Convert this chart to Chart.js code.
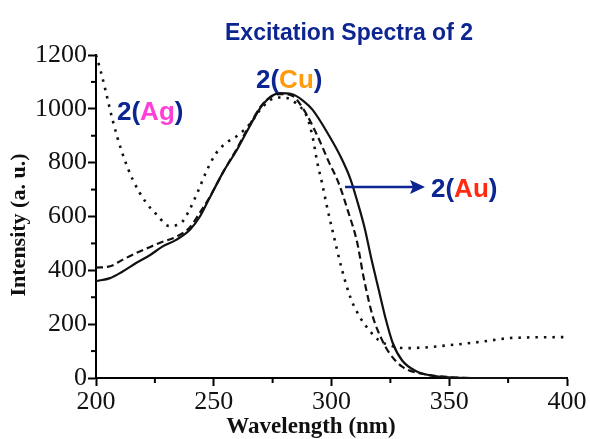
<!DOCTYPE html>
<html>
<head>
<meta charset="utf-8">
<script src="https://cdn.jsdelivr.net/npm/chart.js@4"></script>
<style>
  html, body { margin: 0; padding: 0; background: #fff; }
  #wrap { width: 590px; height: 439px; }
</style>
</head>
<body>
<div id="wrap"><canvas id="spectraChart" width="590" height="439"></canvas></div>
<script>
// Excitation spectra (wavelength in nm, intensity in a.u.)
const auWave = [200, 206, 211, 217, 223, 228, 234, 240, 244, 248, 254, 260, 264, 271, 278, 283, 288, 292, 299, 304, 308, 311, 314, 317, 320, 323, 326, 330, 336, 343, 350, 360, 400];
const auInt  = [360, 371, 394, 427, 457, 487, 513, 552, 598, 665, 765, 850, 915, 1018, 1058, 1055, 1030, 996, 900, 820, 740, 655, 560, 440, 330, 220, 130, 65, 25, 8, 2, 0, 0];

const cuWave = [200, 206, 211, 217, 223, 228, 234, 240, 244, 248, 254, 260, 264, 271, 278, 283, 288, 294, 299, 303, 307, 311, 313.5, 316, 318, 321, 324, 330, 339, 349, 360, 400];
const cuInt  = [410, 415, 438, 464, 487, 505, 524, 561, 613, 668, 765, 855, 920, 1020, 1055, 1050, 1000, 900, 800, 725, 620, 500, 380, 280, 215, 150, 100, 42, 15, 4, 0, 0];

const agWave = [200, 202, 204, 207, 211, 215.7, 221, 226, 231, 236, 239, 243, 247, 251, 256, 260, 265, 271, 277, 281, 285, 289.6, 292, 294, 296, 298, 300.5, 304.5, 308, 312, 316, 320, 326, 332, 339, 349, 363, 377, 400];
const agInt  = [1200, 1140, 1070, 960, 840, 735, 655, 605, 565, 575, 613, 687, 770, 835, 878, 900, 940, 1010, 1042, 1040, 1020, 970, 895, 799, 724, 640, 545, 401, 300, 227, 178, 141, 118, 111, 113, 121, 134, 149, 152];

const xTicks = [200, 250, 300, 350, 400];
const yTicks = [0, 200, 400, 600, 800, 1000, 1200];

const navy = '#0d2591';
const serif = '"Liberation Serif", "Times New Roman", serif';
const sans = '"Liberation Sans", Arial, Helvetica, sans-serif';

function toPoints(xs, ys) {
    return xs.map((x, i) => ({ x: x, y: ys[i] }));
}

// short minor ticks between the labelled ones
const minorTicks = {
    id: 'minorTicks',
    afterDraw(chart) {
        const ctx = chart.ctx;
        const xs = chart.scales.x, ys = chart.scales.y;
        ctx.save();
        ctx.strokeStyle = '#000';
        ctx.lineWidth = 2;
        for (let v = 225; v < 400; v += 50) {
            const px = xs.getPixelForValue(v);
            ctx.beginPath();
            ctx.moveTo(px, ys.bottom);
            ctx.lineTo(px, ys.bottom + 5);
            ctx.stroke();
        }
        for (let v = 100; v < 1200; v += 200) {
            const py = ys.getPixelForValue(v);
            ctx.beginPath();
            ctx.moveTo(xs.left, py);
            ctx.lineTo(xs.left - 5, py);
            ctx.stroke();
        }
        ctx.restore();
    }
};

// title and coloured series labels
function drawParts(ctx, parts, x, y) {
    let cx = x;
    parts.forEach(p => {
        ctx.fillStyle = p[1];
        ctx.fillText(p[0], cx, y);
        cx += ctx.measureText(p[0]).width;
    });
}

const annotations = {
    id: 'annotations',
    afterDraw(chart) {
        const ctx = chart.ctx;
        ctx.save();
        ctx.textBaseline = 'alphabetic';
        ctx.font = 'bold 23px ' + sans;
        ctx.fillStyle = navy;
        ctx.textAlign = 'center';
        ctx.fillText('Excitation Spectra of 2', 349, 40);

        // axis titles (placed off-centre like the scanned figure)
        ctx.fillStyle = '#111';
        ctx.textBaseline = 'middle';
        ctx.font = 'bold 23px ' + serif;
        ctx.fillText('Wavelength (nm)', 311, 427);
        ctx.save();
        ctx.translate(19, 225);
        ctx.rotate(-Math.PI / 2);
        ctx.font = 'bold 22px ' + serif;
        ctx.fillText('Intensity (a. u.)', 0, 0);
        ctx.restore();

        ctx.textBaseline = 'alphabetic';
        ctx.textAlign = 'left';
        ctx.font = 'bold 26px ' + sans;
        drawParts(ctx, [['2(', navy], ['Ag', '#ff3fd8'], [')', navy]], 117, 120);
        drawParts(ctx, [['2(', navy], ['Cu', '#ff9a0a'], [')', navy]], 256, 88);
        drawParts(ctx, [['2(', navy], ['Au', '#ff2a12'], [')', navy]], 431, 197);

        // arrow pointing at the solid curve
        ctx.strokeStyle = navy;
        ctx.fillStyle = navy;
        ctx.lineWidth = 2.5;
        ctx.beginPath();
        ctx.moveTo(345, 187);
        ctx.lineTo(414, 187);
        ctx.stroke();
        ctx.beginPath();
        ctx.moveTo(425, 187);
        ctx.lineTo(410, 180);
        ctx.lineTo(413, 187);
        ctx.lineTo(410, 194);
        ctx.closePath();
        ctx.fill();
        ctx.restore();
    }
};

document.addEventListener('DOMContentLoaded', function() {
    const ctx = document.getElementById('spectraChart').getContext('2d');
    const spectraChart = new Chart(ctx, {
        type: 'line',
        data: {
            datasets: [{
                label: '2(Au)',
                data: toPoints(auWave, auInt),
                borderColor: '#111',
                borderWidth: 2.2
            }, {
                label: '2(Cu)',
                data: toPoints(cuWave, cuInt),
                borderColor: '#111',
                borderWidth: 2.2,
                borderDash: [7, 4]
            }, {
                label: '2(Ag)',
                data: toPoints(agWave, agInt),
                borderColor: '#111',
                borderWidth: 2.6,
                borderDash: [2.5, 6]
            }]
        },
        options: {
            responsive: false,
            animation: false,
            events: [],
            clip: false,
            elements: {
                point: { radius: 0 },
                line: { cubicInterpolationMode: 'monotone', fill: false }
            },
            layout: { padding: { top: 55, right: 23, left: 0, bottom: 0 } },
            plugins: {
                legend: { display: false },
                tooltip: { enabled: false }
            },
            scales: {
                x: {
                    type: 'linear',
                    min: 200,
                    max: 400,
                    afterFit: s => { s.height = 61; },
                    afterBuildTicks: s => { s.ticks = xTicks.map(v => ({ value: v })); },
                    border: { color: '#000', width: 2 },
                    grid: { drawOnChartArea: false, tickLength: 8, tickColor: '#000', tickWidth: 2 },
                    ticks: {
                        color: '#111',
                        padding: 1,
                        maxRotation: 0,
                        autoSkip: false,
                        callback: v => String(v),
                        font: { family: serif, size: 26 }
                    }
                },
                y: {
                    min: 0,
                    max: 1200,
                    afterFit: s => { s.width = 96; },
                    afterBuildTicks: s => { s.ticks = yTicks.map(v => ({ value: v })); },
                    border: { color: '#000', width: 2 },
                    grid: { drawOnChartArea: false, tickLength: 8, tickColor: '#000', tickWidth: 2 },
                    ticks: {
                        color: '#111',
                        padding: 1,
                        autoSkip: false,
                        callback: v => String(v),
                        font: { family: serif, size: 26 }
                    }
                }
            }
        },
        plugins: [minorTicks, annotations]
    });
});
</script>
</body>
</html>
